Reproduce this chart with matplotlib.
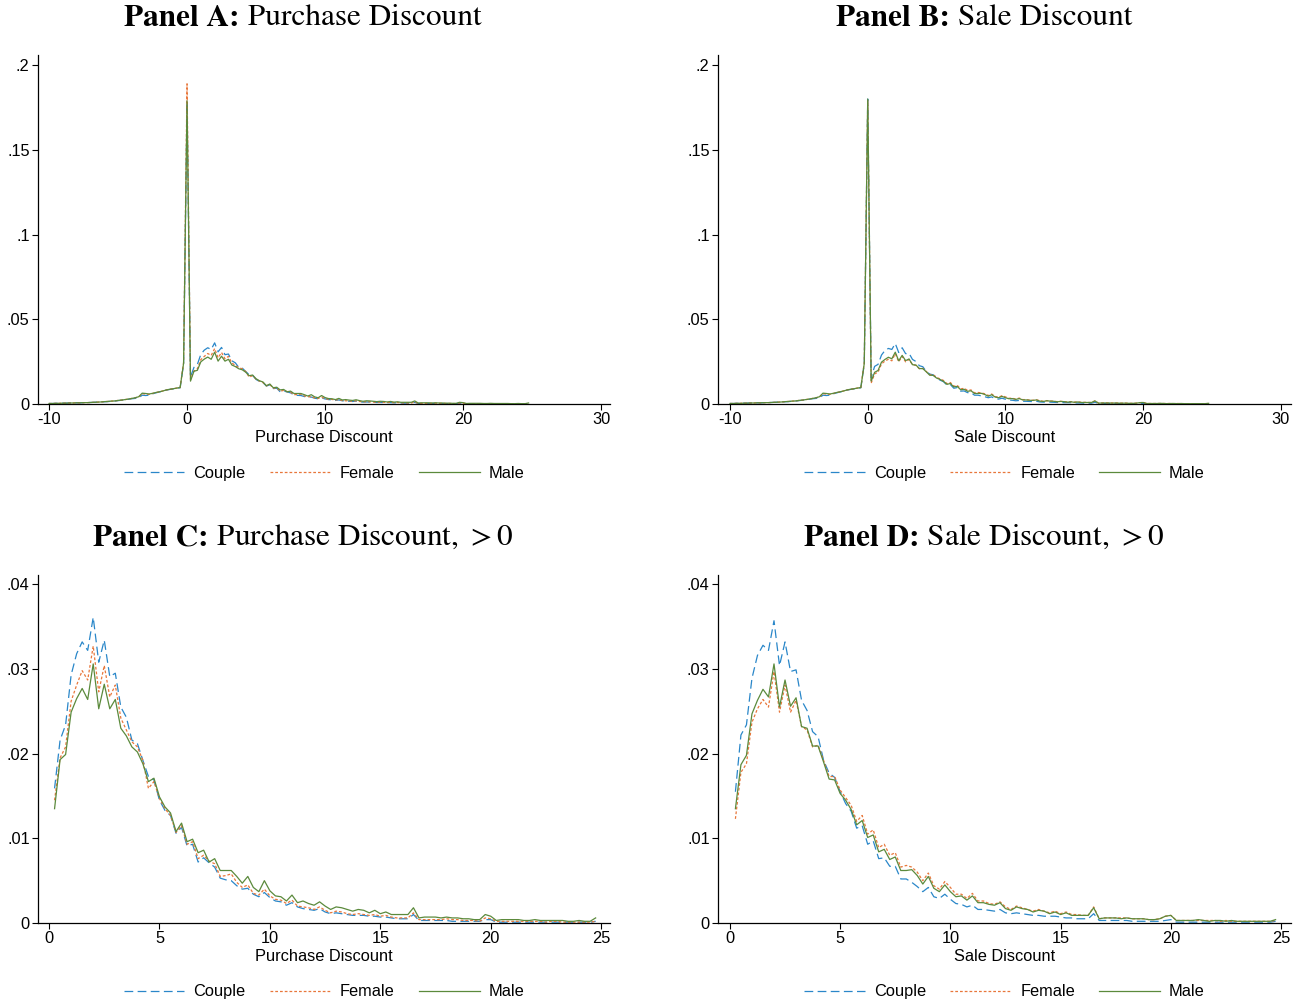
import numpy as np
import matplotlib.pyplot as plt
from matplotlib.ticker import FuncFormatter

plt.rcParams['font.family'] = ['Liberation Sans', 'DejaVu Sans']
plt.rcParams['mathtext.fontset'] = 'stix'
plt.rcParams['axes.unicode_minus'] = False

bin_width = 0.25
groups = ['Couple', 'Female', 'Male']

neg_couple = [.0003, .0003, .0004, .0004, .0005, .0005, .0006, .0006, .0007, .0007,
              .0008, .0008, .0009, .0010, .0011, .0012, .0013, .0014, .0016, .0017,
              .0020, .0022, .0025, .0028, .0031, .0033, .0036, .0052, .0050, .0052,
              .0060, .0066, .0071, .0076, .0082, .0086, .0089, .0093, .0096, .0235]
neg_female = [.0003, .0003, .0004, .0004, .0005, .0005, .0006, .0006, .0007, .0007,
              .0008, .0008, .0009, .0010, .0011, .0012, .0014, .0015, .0017, .0018,
              .0021, .0023, .0026, .0029, .0033, .0037, .0042, .0061, .0059, .0057,
              .0062, .0067, .0072, .0077, .0083, .0087, .0090, .0094, .0097, .0245]
neg_male = [.0003, .0003, .0004, .0004, .0005, .0005, .0006, .0006, .0007, .0007,
            .0008, .0008, .0009, .0010, .0011, .0012, .0014, .0015, .0017, .0018,
            .0021, .0023, .0026, .0029, .0033, .0037, .0043, .0064, .0062, .0059,
            .0063, .0068, .0072, .0077, .0083, .0087, .0090, .0094, .0097, .0240]

# mass at a discount of exactly zero (Couple, Female, Male)
spike_purchase = [0.178, 0.189, 0.179]
spike_sale = [0.180, 0.179, 0.180]

# densities for positive discounts, bins 0.25 ... 24.75
purchase_couple = [.0159, .0216, .0234, .0293, .0318, .0332, .0322, .0361, .0308, .0334,
                   .0291, .0295, .0255, .0243, .0216, .0212, .0192, .0173, .0169, .0145,
                   .0133, .0127, .0106, .0113, .0091, .0093, .0072, .0077, .0071, .0066,
                   .0053, .0051, .0050, .0044, .0040, .0041, .0034, .0031, .0036, .0030,
                   .0026, .0025, .0021, .0024, .0019,
                   .0017, .0016, .0015, .0017, .0013, .0011, .0012, .0011, .0010, .0009,
                   .0009, .0009, .0008, .0008, .0007, .0007, .0006, .0005, .0005, .0005,
                   .0010, .0003, .0003, .0003, .0003, .0003, .0003, .0002, .0002, .0002,
                   .0002, .0002, .0002, .0004, .0004,
                   .0001, .0001, .0001, .0001, .0001, .0001, .0001, .0001, .0001, .0001,
                   .0001, .0001, .0001, .0001, .0001, .0001, .0001, .0001, .0002]
purchase_female = [.0145, .0195, .0208, .0262, .0281, .0298, .0287, .0327, .0273, .0304,
                   .0267, .0281, .0242, .0228, .0214, .0208, .0192, .0159, .0167, .0147,
                   .0135, .0127, .0107, .0115, .0093, .0096, .0076, .0080, .0073, .0070,
                   .0055, .0056, .0058, .0048, .0042, .0045, .0035, .0033, .0040, .0032,
                   .0028, .0027, .0023, .0027, .0020,
                   .0019, .0018, .0016, .0019, .0015, .0012, .0014, .0013, .0011, .0010,
                   .0011, .0010, .0009, .0010, .0008, .0009, .0007, .0006, .0006, .0006,
                   .0012, .0004, .0004, .0004, .0004, .0004, .0005, .0004, .0004, .0003,
                   .0003, .0003, .0002, .0006, .0005,
                   .0002, .0002, .0002, .0002, .0002, .0002, .0002, .0002, .0002, .0001,
                   .0002, .0002, .0001, .0001, .0001, .0001, .0001, .0001, .0002]
purchase_male = [.0135, .0193, .0199, .0249, .0265, .0277, .0264, .0306, .0253, .0282,
                 .0253, .0264, .0230, .0221, .0208, .0202, .0188, .0167, .0171, .0149,
                 .0137, .0130, .0108, .0118, .0096, .0099, .0083, .0086, .0072, .0076,
                 .0062, .0062, .0062, .0055, .0047, .0055, .0042, .0037, .0050, .0038,
                 .0032, .0031, .0026, .0033, .0024,
                 .0026, .0023, .0021, .0025, .0020, .0016, .0019, .0018, .0016, .0014,
                 .0016, .0015, .0012, .0015, .0011, .0013, .0010, .0010, .0010, .0010,
                 .0018, .0006, .0007, .0007, .0007, .0006, .0007, .0006, .0006, .0005,
                 .0005, .0004, .0004, .0010, .0008,
                 .0003, .0004, .0004, .0004, .0004, .0003, .0003, .0004, .0003, .0003,
                 .0003, .0003, .0003, .0002, .0002, .0003, .0002, .0002, .0006]

sale_couple = [.0155, .0222, .0234, .0289, .0316, .0328, .0322, .0357, .0304, .0332,
               .0297, .0299, .0263, .0251, .0226, .0220, .0192, .0177, .0172, .0155,
               .0141, .0132, .0112, .0115, .0093, .0097, .0076, .0077, .0067, .0067,
               .0052, .0052, .0048, .0043, .0037, .0042, .0031, .0029, .0034, .0028,
               .0023, .0022, .0019, .0021, .0016,
               .0016, .0015, .0014, .0016, .0012, .0011, .0012, .0011, .0010, .0009,
               .0009, .0008, .0008, .0008, .0007, .0006, .0006, .0005, .0005, .0005,
               .0011, .0003, .0003, .0003, .0003, .0003, .0003, .0002, .0002, .0002,
               .0002, .0002, .0002, .0003, .0004,
               .0001, .0001, .0001, .0001, .0001, .0001, .0001, .0001, .0001, .0001,
               .0001, .0001, .0001, .0001, .0001, .0001, .0001, .0001, .0002]
sale_female = [.0123, .0178, .0188, .0237, .0253, .0264, .0255, .0297, .0249, .0281,
               .0249, .0263, .0232, .0228, .0208, .0210, .0192, .0173, .0173, .0157,
               .0148, .0139, .0120, .0127, .0105, .0110, .0089, .0093, .0080, .0083,
               .0066, .0068, .0066, .0060, .0050, .0059, .0044, .0040, .0049, .0042,
               .0034, .0034, .0029, .0035, .0026,
               .0026, .0023, .0022, .0025, .0019, .0016, .0020, .0018, .0016, .0014,
               .0016, .0014, .0012, .0014, .0011, .0013, .0010, .0010, .0009, .0009,
               .0019, .0005, .0006, .0006, .0006, .0006, .0006, .0005, .0005, .0005,
               .0004, .0004, .0005, .0008, .0009,
               .0003, .0003, .0003, .0003, .0003, .0003, .0003, .0003, .0002, .0003,
               .0002, .0002, .0002, .0002, .0002, .0002, .0002, .0002, .0003]
sale_male = [.0135, .0187, .0198, .0247, .0263, .0276, .0267, .0306, .0255, .0287,
             .0256, .0266, .0232, .0230, .0209, .0209, .0190, .0170, .0169, .0153,
             .0145, .0134, .0116, .0121, .0101, .0104, .0084, .0087, .0075, .0078,
             .0062, .0062, .0063, .0056, .0046, .0055, .0041, .0037, .0045, .0037,
             .0031, .0032, .0027, .0032, .0024,
             .0024, .0022, .0021, .0024, .0017, .0015, .0019, .0017, .0016, .0013,
             .0015, .0014, .0011, .0013, .0010, .0012, .0009, .0009, .0009, .0009,
             .0018, .0005, .0006, .0006, .0006, .0005, .0006, .0005, .0005, .0005,
             .0004, .0004, .0005, .0008, .0009,
             .0003, .0003, .0003, .0003, .0004, .0003, .0002, .0003, .0003, .0002,
             .0003, .0002, .0002, .0002, .0002, .0002, .0002, .0002, .0004]

colors = {'Couple': '#2a87c9', 'Female': '#e8773b', 'Male': '#5b8a3c'}
dashes = {'Couple': (0, (7, 3.5)), 'Female': (0, (2.2, 1.6)), 'Male': '-'}

neg_series = [neg_couple, neg_female, neg_male]
purchase_series = [purchase_couple, purchase_female, purchase_male]
sale_series = [sale_couple, sale_female, sale_male]


def pos_x(vals):
    return bin_width * np.arange(1, len(vals) + 1)


def neg_x(vals):
    return -bin_width * np.arange(len(vals), 0, -1)


def ytick_fmt(v, pos):
    if abs(v) < 1e-12:
        return '0'
    return ('%g' % round(v, 4)).lstrip('0')


def style_axes(ax, xlim, ylim, xticks, yticks, xlabel):
    ax.set_xlim(xlim)
    ax.set_ylim(ylim)
    ax.set_xticks(xticks)
    ax.set_yticks(yticks)
    ax.yaxis.set_major_formatter(FuncFormatter(ytick_fmt))
    for s in ['top', 'right']:
        ax.spines[s].set_visible(False)
    ax.spines['left'].set_linewidth(0.9)
    ax.spines['bottom'].set_linewidth(0.9)
    ax.tick_params(direction='out', length=4, width=0.8, labelsize=11.8, pad=2)
    ax.set_xlabel(xlabel, fontsize=11.8, labelpad=2)
    ax.legend(loc='center', bbox_to_anchor=(0.5, -0.198), ncol=3, frameon=False,
              fontsize=11.8, handlelength=3.7, handletextpad=0.55, columnspacing=1.5)


fig = plt.figure(figsize=(13.06, 10.05), dpi=100)
W, H = 1306, 1005
axA = fig.add_axes([38 / W, 1 - 404 / H, 572 / W, 349 / H])
axB = fig.add_axes([718 / W, 1 - 404 / H, 573 / W, 349 / H])
axC = fig.add_axes([38 / W, 1 - 923 / H, 572 / W, 348 / H])
axD = fig.add_axes([718 / W, 1 - 923 / H, 573 / W, 348 / H])

# full distributions (panels A and B)
for ax, spikes, pos_series in [(axA, spike_purchase, purchase_series),
                               (axB, spike_sale, sale_series)]:
    for g, neg, spike, pos in zip(groups, neg_series, spikes, pos_series):
        x = np.concatenate([neg_x(neg), [0.0], pos_x(pos)])
        y = np.concatenate([neg, [spike], pos])
        ax.plot(x, y, color=colors[g], linestyle=dashes[g], lw=0.9, label=g)

# positive part only (panels C and D)
for ax, pos_series in [(axC, purchase_series), (axD, sale_series)]:
    for g, pos in zip(groups, pos_series):
        ax.plot(pos_x(pos), pos, color=colors[g], linestyle=dashes[g], lw=0.9, label=g)

style_axes(axA, (-10.8, 30.65), (0, 0.206), [-10, 0, 10, 20, 30],
           [0, .05, .1, .15, .2], 'Purchase Discount')
style_axes(axB, (-10.87, 30.73), (0, 0.206), [-10, 0, 10, 20, 30],
           [0, .05, .1, .15, .2], 'Sale Discount')
style_axes(axC, (-0.5, 25.4), (0, 0.0411), [0, 5, 10, 15, 20, 25],
           [0, .01, .02, .03, .04], 'Purchase Discount')
style_axes(axD, (-0.54, 25.45), (0, 0.0411), [0, 5, 10, 15, 20, 25],
           [0, .01, .02, .03, .04], 'Sale Discount')

# panel titles: bold label followed by regular text, centred as one line
renderer = fig.canvas.get_renderer()


def panel_title(xc, yc, bold, rest):
    kw = dict(va='center', ha='left', fontsize=22.5, family='STIXGeneral')
    t1 = fig.text(0, yc / H, bold, fontweight='bold', **kw)
    t2 = fig.text(0, yc / H, rest, **kw)
    w1 = t1.get_window_extent(renderer).width
    w2 = t2.get_window_extent(renderer).width
    x0 = xc - (w1 + w2) / 2
    t1.set_x(x0 / W)
    t2.set_x((x0 + w1) / W)


panel_title(303, H - 18, 'Panel A:', ' Purchase Discount')
panel_title(984, H - 18, 'Panel B:', ' Sale Discount')
panel_title(303, H - 538, 'Panel C:', r' Purchase Discount, $>0$')
panel_title(984, H - 538, 'Panel D:', r' Sale Discount, $>0$')

fig.savefig('out.png', dpi=100)
